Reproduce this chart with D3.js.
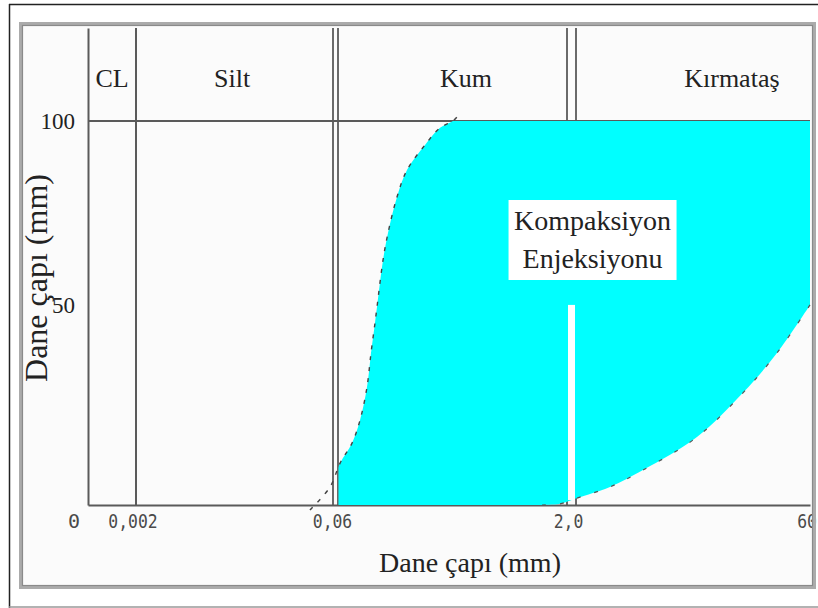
<!DOCTYPE html>
<html>
<head>
<meta charset="utf-8">
<script src="https://cdn.jsdelivr.net/npm/d3@7"></script>
<style>
  html, body { margin: 0; padding: 0; background: #ffffff; }
  svg { display: block; }
</style>
</head>
<body>
<svg id="chart" width="818" height="608"></svg>
<script>
// ---------------- data ----------------
const xTickValues = [0.002, 0.06, 2, 60];
const xTickLabels = ["0,002", "0,06", "2,0", "60"];
const xAxisOrigin = 0.00088;          // grain size at the left axis
const yTickValues = [50, 100];
const yTop = 124.2;                   // value at the top of the plot
const zoneNames = ["CL", "Silt", "Kum", "Kırmataş"];
const zoneLabelX = [0.00133, 0.0103, 0.417, 19.7];
const doubleLines = [0.06, 2];
const singleLines = [0.002];
const refLineY = [100];
// left boundary of the zone (grain size mm, value)
const leftCurveX = [0.0388, 0.0547, 0.0642, 0.0767, 0.0864, 0.0958, 0.1017, 0.1079, 0.1112, 0.1216, 0.1309, 0.1496, 0.1736, 0.2269, 0.2836, 0.3439, 0.3705];
const leftCurveY = [-1.3, 4.7, 10.9, 16.1, 22.1, 30.7, 39.6, 47.4, 51.6, 63.8, 70.8, 80.2, 87.2, 93.75, 98.2, 100, 101.3];
// right boundary of the zone
const rightCurveX = [1.29, 1.686, 2.164, 3.46, 5.544, 11.97, 23.06, 37.46, 60];
const rightCurveY = [0, 0.3, 1.8, 4.7, 9.1, 17.7, 29.2, 39.6, 52.1];
const zoneLabel = ["Kompaksiyon", "Enjeksiyonu"];
const zoneLabelPos = {x: 2.7, y: 69};
const gapTop = 52.1;
const gapBottom = 1.3;
const xTitle = "Dane çapı (mm)";
const yTitle = "Dane çapı (mm)";
const originLabel = "0";

// ---------------- layout ----------------
const svg = d3.select("#chart");
const W = 818, H = 608;
const P = {left: 88, right: 810, top: 28, bottom: 505};
const serif = "'Liberation Serif', 'Times New Roman', serif";
const mono = "'DejaVu Sans Mono', monospace";
const lineCol = "#5a5a5a";

const x = d3.scaleLog()
  .domain([xAxisOrigin].concat(xTickValues))
  .range([P.left, 136, 335.5, 571.5, P.right]);
const y = d3.scaleLinear().domain([0, yTop]).range([P.bottom, P.top]);

// background + frames
svg.append("rect").attr("width", W).attr("height", H).attr("fill", "#ffffff");
svg.append("rect").attr("x", 21).attr("y", 24).attr("width", 793).attr("height", 563)
  .attr("fill", "#fbfbfb");
svg.append("line").attr("x1", 9).attr("x2", W).attr("y1", 4.5).attr("y2", 4.5)
  .attr("stroke", "#222").attr("stroke-width", 1.5);
svg.append("line").attr("x1", 9.5).attr("x2", 9.5).attr("y1", 4).attr("y2", H)
  .attr("stroke", "#222").attr("stroke-width", 1.5);
svg.append("line").attr("x1", 9).attr("x2", W).attr("y1", 607).attr("y2", 607)
  .attr("stroke", "#999").attr("stroke-width", 1.5);

// grid lines
const g = svg.append("g");
singleLines.forEach(v => {
  g.append("line").attr("x1", x(v)).attr("x2", x(v)).attr("y1", P.top).attr("y2", P.bottom)
    .attr("stroke", lineCol).attr("stroke-width", 2);
});
doubleLines.forEach((v, i) => {
  const off = i === 0 ? 2.5 : 4.5;
  [-off, off].forEach(o => {
    g.append("line").attr("x1", x(v) + o).attr("x2", x(v) + o).attr("y1", P.top).attr("y2", P.bottom)
      .attr("stroke", lineCol).attr("stroke-width", 1.8);
  });
});
refLineY.forEach(v => {
  g.append("line").attr("x1", P.left).attr("x2", P.right).attr("y1", y(v)).attr("y2", y(v))
    .attr("stroke", lineCol).attr("stroke-width", 2);
});

// axes
const xAxis = d3.axisBottom(x).tickValues(xTickValues)
  .tickFormat((d, i) => xTickLabels[i]).tickSize(0).tickSizeOuter(0).tickPadding(9);
const xg = svg.append("g").attr("transform", `translate(0,${P.bottom})`).call(xAxis);
xg.select(".domain").attr("stroke", lineCol).attr("stroke-width", 2);
xg.selectAll("text").attr("font-family", mono).attr("font-size", 20).attr("fill", "#4a4a4a")
  .attr("transform", "translate(-3.5,0) scale(0.82,1)");

const yAxis = d3.axisLeft(y).tickValues(yTickValues).tickSize(0).tickSizeOuter(0).tickPadding(13);
const yg = svg.append("g").attr("transform", `translate(${P.left},0)`).call(yAxis);
yg.select(".domain").attr("stroke", lineCol).attr("stroke-width", 2);
yg.selectAll("text").attr("font-family", serif).attr("font-size", 23).attr("fill", "#222")
  .attr("dy", d => d === 50 ? "0.0em" : "0.34em");

svg.append("text").attr("x", x(xAxisOrigin) - 14).attr("y", P.bottom + 23)
  .attr("text-anchor", "middle").attr("font-family", mono).attr("font-size", 20)
  .attr("fill", "#4a4a4a").text(originLabel);

// cyan zone
const left = leftCurveX.map((v, i) => [x(v), y(leftCurveY[i])]);
const right = rightCurveX.map((v, i) => [x(v), y(rightCurveY[i])]);
const lineGen = d3.line().curve(d3.curveCatmullRom.alpha(0.5));
const rightRev = right.slice().reverse();
const areaPath = lineGen(left)
  + "L" + x(60) + "," + y(100)
  + lineGen(rightRev).replace(/^M/, "L")
  + "L" + x(0.03) + "," + y(0) + "Z";

svg.append("clipPath").attr("id", "zoneClip").append("rect")
  .attr("x", x(doubleLines[0]) + 3).attr("y", y(100))
  .attr("width", P.right - x(doubleLines[0]) - 3).attr("height", P.bottom - y(100));
svg.append("path").attr("d", areaPath).attr("fill", "#00ffff")
  .attr("clip-path", "url(#zoneClip)");

// white gap at 2,0
svg.append("rect").attr("x", x(2) - 3.5).attr("width", 7)
  .attr("y", y(gapTop)).attr("height", y(gapBottom) - y(gapTop)).attr("fill", "#ffffff");

// dashed boundary curves
svg.append("path").attr("d", lineGen(left)).attr("fill", "none")
  .attr("stroke", "#444").attr("stroke-width", 1.4).attr("stroke-dasharray", "4,7");
svg.append("path").attr("d", lineGen(right)).attr("fill", "none")
  .attr("stroke", "#555").attr("stroke-width", 1.2).attr("stroke-dasharray", "4,14");

// zone names
zoneNames.forEach((n, i) => {
  svg.append("text").attr("x", x(zoneLabelX[i])).attr("y", 87)
    .attr("text-anchor", "middle").attr("font-family", serif).attr("font-size", 26)
    .attr("fill", "#222").text(n);
});

// zone annotation with white box
const cx = x(zoneLabelPos.x), cy = y(zoneLabelPos.y);
svg.append("rect").attr("x", cx - 84).attr("y", cy - 40).attr("width", 168).attr("height", 80)
  .attr("fill", "#ffffff");
zoneLabel.forEach((t, i) => {
  svg.append("text").attr("x", cx).attr("y", cy - 10 + i * 38)
    .attr("text-anchor", "middle").attr("font-family", serif).attr("font-size", 28)
    .attr("fill", "#222").text(t);
});

// axis titles
svg.append("text").attr("x", (P.left + P.right) / 2 + 21).attr("y", 572)
  .attr("text-anchor", "middle").attr("font-family", serif).attr("font-size", 28)
  .attr("fill", "#222").text(xTitle);
svg.append("text").attr("transform", "translate(47,278) rotate(-90)")
  .attr("text-anchor", "middle").attr("font-family", serif).attr("font-size", 32)
  .attr("fill", "#222").text(yTitle);

// inner frame drawn on top
svg.append("rect").attr("x", 21).attr("y", 24).attr("width", 793).attr("height", 563)
  .attr("fill", "none").attr("stroke", "#ababab").attr("stroke-width", 4);
svg.append("rect").attr("x", 22.5).attr("y", 25.5).attr("width", 790).attr("height", 560)
  .attr("fill", "none").attr("stroke", "#8a8a8a").attr("stroke-width", 1.2);
</script>
</body>
</html>
